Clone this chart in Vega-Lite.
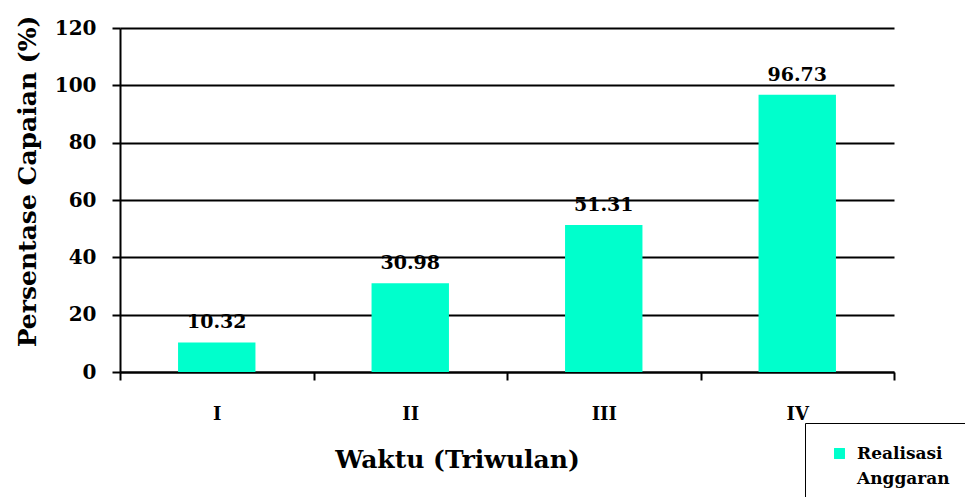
{
  "$schema": "https://vega.github.io/schema/vega-lite/v6.json",
  "width": 774,
  "height": 344,
  "autosize": "none",
  "padding": {"left": 120, "top": 28, "right": 71, "bottom": 125},
  "background": "white",
  "config": {
    "view": {"stroke": null},
    "font": "DejaVu Serif",
    "style": {"guide-label": {"lineHeight": 25}}
  },
  "data": {
    "values": [
      {"triwulan": "I", "nilai": 10.32, "seri": "Realisasi Anggaran"},
      {"triwulan": "II", "nilai": 30.98, "seri": "Realisasi Anggaran"},
      {"triwulan": "III", "nilai": 51.31, "seri": "Realisasi Anggaran"},
      {"triwulan": "IV", "nilai": 96.73, "seri": "Realisasi Anggaran"}
    ]
  },
  "encoding": {
    "x": {
      "field": "triwulan",
      "type": "nominal",
      "sort": null,
      "scale": {"paddingInner": 0, "paddingOuter": 0},
      "axis": {
        "title": "Waktu (Triwulan)",
        "titleFont": "DejaVu Serif",
        "titleFontSize": 25,
        "titleFontWeight": "bold",
        "titleColor": "black",
        "titlePadding": 24,
        "titleX": 337,
        "labelAngle": 0,
        "labelFont": "DejaVu Serif",
        "labelFontSize": 18,
        "labelFontWeight": "bold",
        "labelColor": "black",
        "labelPadding": 25,
        "tickBand": "extent",
        "tickSize": 8,
        "tickColor": "black",
        "tickWidth": 2,
        "domainColor": "black",
        "domainWidth": 2,
        "grid": false
      }
    },
    "y": {
      "field": "nilai",
      "type": "quantitative",
      "scale": {"domain": [0, 120], "nice": false},
      "axis": {
        "title": "Persentase Capaian (%)",
        "titleFont": "DejaVu Serif",
        "titleFontSize": 25,
        "titleFontWeight": "bold",
        "titleColor": "black",
        "titlePadding": 14,
        "titleY": 153,
        "values": [0, 20, 40, 60, 80, 100, 120],
        "labelFont": "DejaVu Serif",
        "labelFontSize": 20,
        "labelFontWeight": "bold",
        "labelColor": "black",
        "labelPadding": 16,
        "tickSize": 8,
        "tickColor": "black",
        "tickWidth": 2,
        "domainColor": "black",
        "domainWidth": 2,
        "grid": true,
        "gridColor": "black",
        "gridWidth": 2,
        "gridOpacity": 1
      }
    }
  },
  "layer": [
    {
      "mark": {"type": "bar", "color": "#00FFCC", "width": {"band": 0.4}},
      "encoding": {
        "color": {
          "field": "seri",
          "type": "nominal",
          "scale": {"range": ["#00FFCC"]},
          "legend": {
            "title": null,
            "orient": "none",
            "legendX": 685,
            "legendY": 395,
            "symbolType": "square",
            "symbolSize": 120,
            "symbolOpacity": 1,
            "symbolOffset": 4,
            "labelFont": "DejaVu Serif",
            "labelFontSize": 17,
            "labelFontWeight": "bold",
            "labelColor": "black",
            "labelOffset": 9,
            "labelExpr": "['Realisasi\u00a0\u00a0\u00a0\u00a0\u00a0\u00a0', 'Anggaran', '\u00a0']",
            "labelLimit": 300,
            "strokeColor": "black",
            "padding": 22,
            "fillColor": "white"
          }
        }
      }
    },
    {
      "mark": {
        "type": "text",
        "baseline": "bottom",
        "dy": -10,
        "font": "DejaVu Serif",
        "fontSize": 19,
        "fontWeight": "bold",
        "color": "black"
      },
      "encoding": {
        "text": {"field": "nilai", "type": "quantitative", "format": ".2f"}
      }
    }
  ]
}
